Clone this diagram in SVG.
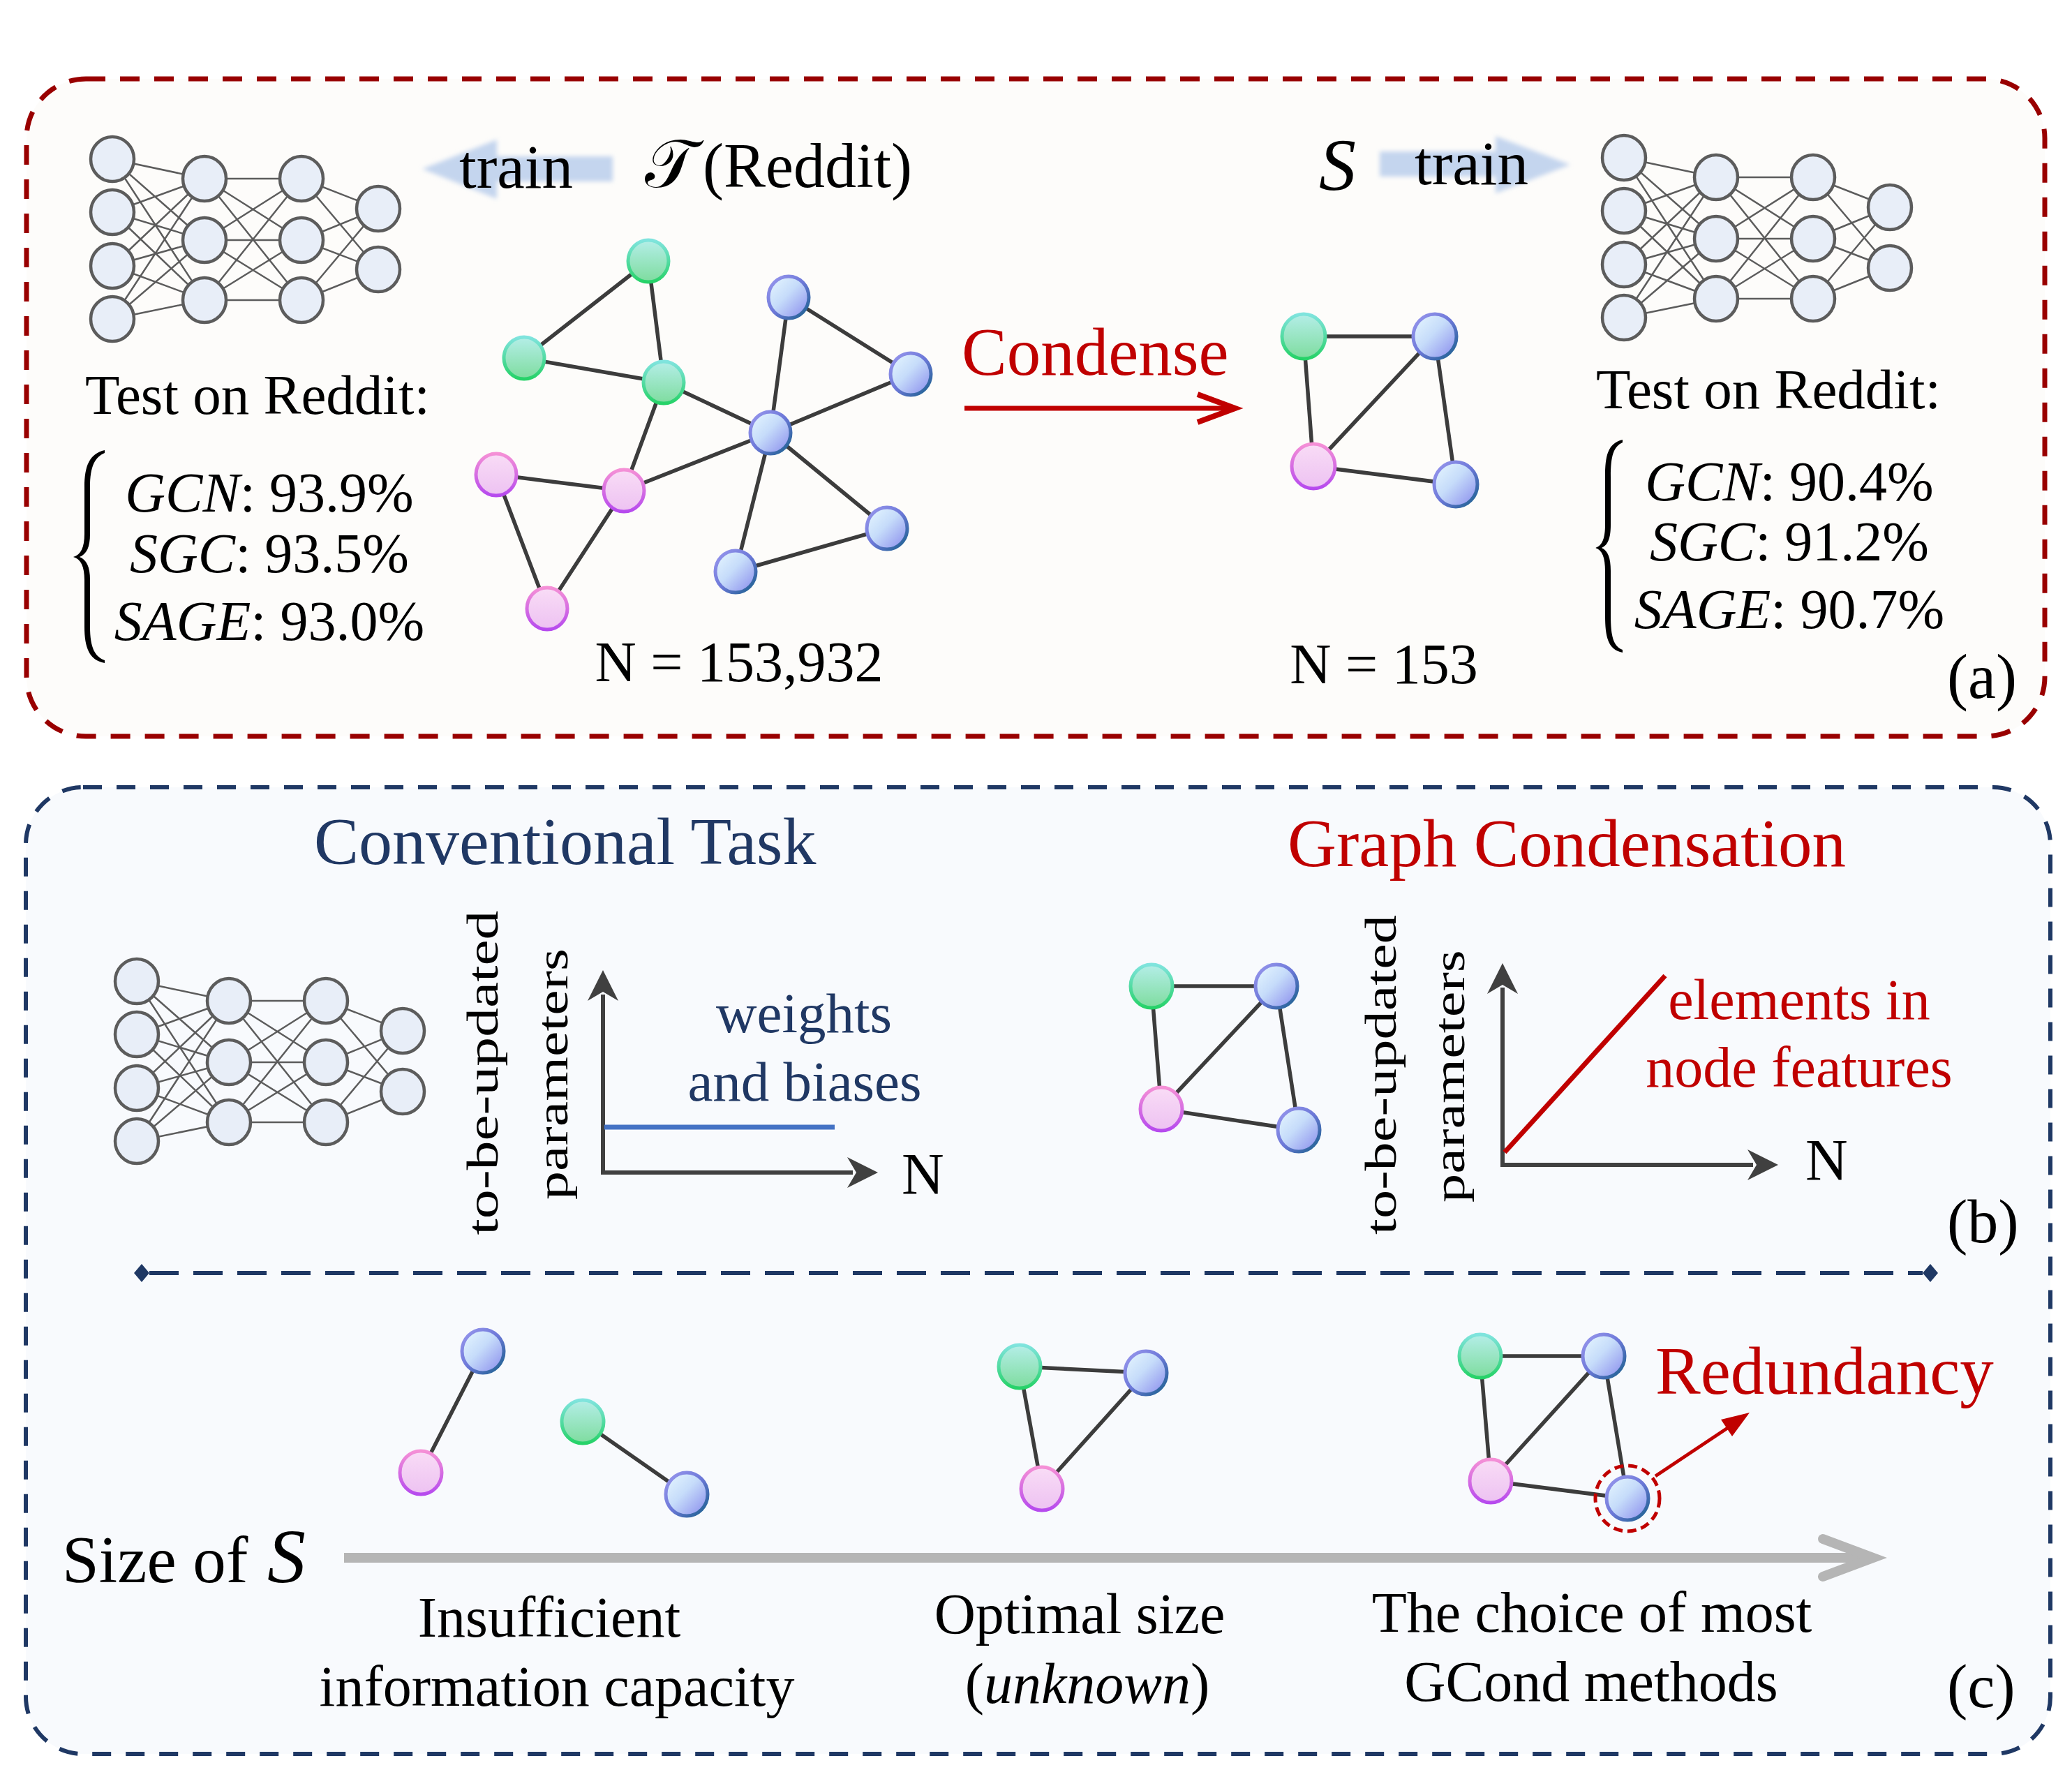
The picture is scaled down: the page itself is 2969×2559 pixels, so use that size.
<svg xmlns="http://www.w3.org/2000/svg" width="2969" height="2559" viewBox="0 0 2969 2559">
<defs>
<style>
.serif{font-family:"Liberation Serif","Times New Roman",serif;fill:#000}
.nnl{stroke:#5c5c5c;stroke-width:2.5;fill:none}
.nnc{fill:#e8eef8;stroke:#5c5c5c;stroke-width:4.5}
.ge{stroke:#3c3c3c;stroke-width:5.5;stroke-linecap:round}
.nG{fill:url(#gF);stroke:url(#gS);stroke-width:5}
.nB{fill:url(#bF);stroke:url(#bS);stroke-width:5}
.nP{fill:url(#pF);stroke:url(#pS);stroke-width:5}
.axis{stroke:#404040;stroke-width:6;fill:none}
.axh{fill:#404040}
.red{fill:#c00000}
.navy{fill:#203864}
.rot{font-size:63px}
</style>
<linearGradient id="gF" x1="0" y1="0" x2="0" y2="1"><stop offset="0" stop-color="#b4eee8"/><stop offset="1" stop-color="#7edc9e"/></linearGradient>
<linearGradient id="gS" x1="0" y1="0" x2="0" y2="1"><stop offset="0" stop-color="#80e4de"/><stop offset="1" stop-color="#26d268"/></linearGradient>
<linearGradient id="bF" x1="0" y1="0" x2="1" y2="1"><stop offset="0" stop-color="#e8f8ff"/><stop offset="0.45" stop-color="#c6dcfa"/><stop offset="1" stop-color="#8688ec"/></linearGradient>
<linearGradient id="bS" x1="0" y1="0" x2="1" y2="1"><stop offset="0" stop-color="#9a98ee"/><stop offset="0.5" stop-color="#6c78d8"/><stop offset="1" stop-color="#17608a"/></linearGradient>
<linearGradient id="pF" x1="0" y1="0" x2="0" y2="1"><stop offset="0" stop-color="#f9dcf6"/><stop offset="1" stop-color="#edc2f2"/></linearGradient>
<linearGradient id="pS" x1="0" y1="0" x2="0" y2="1"><stop offset="0" stop-color="#f590d6"/><stop offset="1" stop-color="#b64aee"/></linearGradient>
<filter id="soft" x="-10%" y="-30%" width="120%" height="160%"><feGaussianBlur stdDeviation="3"/></filter>
<g id="nnet">
<path class="nnl" d="M161,228L293,256M161,228L293,344M161,228L293,430M161,304L293,256M161,304L293,344M161,304L293,430M161,381L293,256M161,381L293,344M161,381L293,430M161,457L293,256M161,457L293,344M161,457L293,430M293,256L432,256M293,256L432,344M293,256L432,430M293,344L432,256M293,344L432,344M293,344L432,430M293,430L432,256M293,430L432,344M293,430L432,430M432,256L542,299M432,256L542,386M432,344L542,299M432,344L542,386M432,430L542,299M432,430L542,386"/>
<ellipse class="nnc" cx="161" cy="228" rx="31" ry="32"/>
<ellipse class="nnc" cx="161" cy="304" rx="31" ry="32"/>
<ellipse class="nnc" cx="161" cy="381" rx="31" ry="32"/>
<ellipse class="nnc" cx="161" cy="457" rx="31" ry="32"/>
<ellipse class="nnc" cx="293" cy="256" rx="31" ry="32"/>
<ellipse class="nnc" cx="293" cy="344" rx="31" ry="32"/>
<ellipse class="nnc" cx="293" cy="430" rx="31" ry="32"/>
<ellipse class="nnc" cx="432" cy="256" rx="31" ry="32"/>
<ellipse class="nnc" cx="432" cy="344" rx="31" ry="32"/>
<ellipse class="nnc" cx="432" cy="430" rx="31" ry="32"/>
<ellipse class="nnc" cx="542" cy="299" rx="31" ry="32"/>
<ellipse class="nnc" cx="542" cy="386" rx="31" ry="32"/>
</g>
</defs>

<rect width="2969" height="2559" fill="#ffffff"/>

<!-- Panel frames -->
<g id="panel-a">
<rect x="38" y="113" width="2892" height="942" rx="85" fill="#fdfcfa" stroke="#990000" stroke-width="7" stroke-dasharray="28 21"/>
</g>
<g id="panel-bc">
<rect x="37" y="1128" width="2901" height="1385" rx="82" fill="#f8fafd" stroke="#1f3864" stroke-width="6" stroke-dasharray="27 21"/>
</g>

<!-- Connectors -->
<g id="connectors">
<polygon points="605,242 712,200 712,224 878,224 878,260 712,260 712,285" fill="#c4d5ee" filter="url(#soft)"/>
<polygon points="1977,217 2143,217 2143,195 2250,236 2143,277 2143,253 1977,253" fill="#c4d5ee" filter="url(#soft)"/>
<line x1="1382" y1="585" x2="1766" y2="585" stroke="#c00000" stroke-width="7"/>
<polyline points="1716,565 1770,585 1716,605" fill="none" stroke="#c00000" stroke-width="8"/>
<g id="edges-T">
<line class="ge" x1="929" y1="374" x2="751" y2="513"/>
<line class="ge" x1="929" y1="374" x2="951" y2="548"/>
<line class="ge" x1="751" y1="513" x2="951" y2="548"/>
<line class="ge" x1="951" y1="548" x2="1104" y2="620"/>
<line class="ge" x1="951" y1="548" x2="894" y2="703"/>
<line class="ge" x1="711" y1="680" x2="894" y2="703"/>
<line class="ge" x1="711" y1="680" x2="784" y2="872"/>
<line class="ge" x1="894" y1="703" x2="784" y2="872"/>
<line class="ge" x1="894" y1="703" x2="1104" y2="620"/>
<line class="ge" x1="1130" y1="426" x2="1104" y2="620"/>
<line class="ge" x1="1130" y1="426" x2="1305" y2="536"/>
<line class="ge" x1="1305" y1="536" x2="1104" y2="620"/>
<line class="ge" x1="1104" y1="620" x2="1271" y2="757"/>
<line class="ge" x1="1104" y1="620" x2="1054" y2="819"/>
<line class="ge" x1="1271" y1="757" x2="1054" y2="819"/>
</g>
<g id="edges-S">
<line class="ge" x1="1868" y1="482" x2="2056" y2="482"/>
<line class="ge" x1="1868" y1="482" x2="1882" y2="668"/>
<line class="ge" x1="2056" y1="482" x2="1882" y2="668"/>
<line class="ge" x1="2056" y1="482" x2="2086" y2="694"/>
<line class="ge" x1="1882" y1="668" x2="2086" y2="694"/>
</g>
<g id="edges-b">
<line class="ge" x1="1650" y1="1413" x2="1829" y2="1413"/>
<line class="ge" x1="1650" y1="1413" x2="1664" y2="1589"/>
<line class="ge" x1="1829" y1="1413" x2="1664" y2="1589"/>
<line class="ge" x1="1829" y1="1413" x2="1861" y2="1619"/>
<line class="ge" x1="1664" y1="1589" x2="1861" y2="1619"/>
</g>
<g id="edges-c">
<line class="ge" x1="692" y1="1936" x2="603" y2="2110"/>
<line class="ge" x1="835" y1="2037" x2="984" y2="2141"/>
<line class="ge" x1="1461" y1="1958" x2="1642" y2="1967"/>
<line class="ge" x1="1461" y1="1958" x2="1493" y2="2133"/>
<line class="ge" x1="1642" y1="1967" x2="1493" y2="2133"/>
<line class="ge" x1="2121" y1="1943" x2="2298" y2="1943"/>
<line class="ge" x1="2121" y1="1943" x2="2136" y2="2122"/>
<line class="ge" x1="2298" y1="1943" x2="2136" y2="2122"/>
<line class="ge" x1="2298" y1="1943" x2="2332" y2="2147"/>
<line class="ge" x1="2136" y1="2122" x2="2332" y2="2147"/>
</g>
<g id="chart-1">
<path class="axis" d="M864,1683V1425M861,1680H1222"/>
<polygon class="axh" points="864,1390 886,1434 864,1421 842,1434"/>
<polygon class="axh" points="1258,1680 1214,1658 1227,1680 1214,1702"/>
<line x1="866" y1="1615" x2="1196" y2="1615" stroke="#4472c4" stroke-width="7"/>
</g>
<g id="chart-2">
<path class="axis" d="M2153,1672V1415M2150,1669H2512"/>
<polygon class="axh" points="2153,1380 2175,1424 2153,1411 2131,1424"/>
<polygon class="axh" points="2548,1669 2504,1647 2517,1669 2504,1691"/>
<line x1="2156" y1="1651" x2="2386" y2="1398" stroke="#c00000" stroke-width="7"/>
</g>
<g id="divider">
<line x1="214" y1="1824" x2="2755" y2="1824" stroke="#1f3864" stroke-width="6" stroke-dasharray="42 21"/>
<polygon points="203,1811 214,1824 203,1837 192,1824" fill="#1f3864"/>
<polygon points="2766,1811 2777,1824 2766,1837 2755,1824" fill="#1f3864"/>
</g>
<g id="size-arrow">
<line x1="493" y1="2232" x2="2680" y2="2232" stroke="#b5b5b5" stroke-width="14"/>
<polyline points="2612,2205 2684,2232 2612,2259" fill="none" stroke="#b5b5b5" stroke-width="14" stroke-linecap="round" stroke-linejoin="miter"/>
</g>
<g id="redundancy-arrow">
<line x1="2372" y1="2115" x2="2480" y2="2043" stroke="#c00000" stroke-width="5"/>
<polygon points="2507,2024 2482,2058 2466,2034" fill="#c00000"/>
</g>
</g>

<!-- Neural nets -->
<g id="nn-left"><use href="#nnet"/></g>
<g id="nn-right"><use href="#nnet" transform="translate(2166,-2)"/></g>
<g id="nn-b"><use href="#nnet" transform="translate(35,1178)"/></g>

<!-- Graphs -->
<g id="graph-T">
<ellipse class="nG" cx="929" cy="374" rx="29" ry="30"/>
<ellipse class="nG" cx="751" cy="513" rx="29" ry="30"/>
<ellipse class="nG" cx="951" cy="548" rx="29" ry="30"/>
<ellipse class="nB" cx="1130" cy="426" rx="29" ry="30"/>
<ellipse class="nB" cx="1305" cy="536" rx="29" ry="30"/>
<ellipse class="nB" cx="1104" cy="620" rx="29" ry="30"/>
<ellipse class="nB" cx="1271" cy="757" rx="29" ry="30"/>
<ellipse class="nB" cx="1054" cy="819" rx="29" ry="30"/>
<ellipse class="nP" cx="711" cy="680" rx="29" ry="30"/>
<ellipse class="nP" cx="894" cy="703" rx="29" ry="30"/>
<ellipse class="nP" cx="784" cy="872" rx="29" ry="30"/>
</g>
<g id="graph-S">
<ellipse class="nG" cx="1868" cy="482" rx="31" ry="32"/>
<ellipse class="nB" cx="2056" cy="482" rx="31" ry="32"/>
<ellipse class="nP" cx="1882" cy="668" rx="31" ry="32"/>
<ellipse class="nB" cx="2086" cy="694" rx="31" ry="32"/>
</g>
<g id="graph-b">
<ellipse class="nG" cx="1650" cy="1413" rx="30" ry="31"/>
<ellipse class="nB" cx="1829" cy="1413" rx="30" ry="31"/>
<ellipse class="nP" cx="1664" cy="1589" rx="30" ry="31"/>
<ellipse class="nB" cx="1861" cy="1619" rx="30" ry="31"/>
</g>
<g id="graph-c-small">
<ellipse class="nB" cx="692" cy="1936" rx="30" ry="31"/>
<ellipse class="nP" cx="603" cy="2110" rx="30" ry="31"/>
<ellipse class="nG" cx="835" cy="2037" rx="30" ry="31"/>
<ellipse class="nB" cx="984" cy="2141" rx="30" ry="31"/>
</g>
<g id="graph-c-optimal">
<ellipse class="nG" cx="1461" cy="1958" rx="30" ry="31"/>
<ellipse class="nB" cx="1642" cy="1967" rx="30" ry="31"/>
<ellipse class="nP" cx="1493" cy="2133" rx="30" ry="31"/>
</g>
<g id="graph-c-gcond">
<ellipse class="nG" cx="2121" cy="1943" rx="30" ry="31"/>
<ellipse class="nB" cx="2298" cy="1943" rx="30" ry="31"/>
<ellipse class="nP" cx="2136" cy="2122" rx="30" ry="31"/>
<ellipse class="nB" cx="2332" cy="2147" rx="30" ry="31"/>
<ellipse cx="2332" cy="2147" rx="46" ry="47" fill="none" stroke="#c00000" stroke-width="5" stroke-dasharray="13 7"/>
</g>

<!-- Braces -->
<g id="braces" fill="#000">
<path d="M150,645 C128,650 121,668 121,698 L121,765 C121,784 116,795 105,798 C116,801 121,812 121,831 L121,898 C121,928 128,946 150,950 L150,946 C136,941 129,928 129,898 L129,831 C129,812 124,802 114,798 C124,794 129,784 129,765 L129,698 C129,668 136,655 150,649 Z"/>
<path d="M2325,630 C2304,635 2300,653 2300,683 L2300,752 C2300,771 2296,782 2286,785 C2296,788 2300,799 2300,818 L2300,882 C2300,912 2304,931 2325,935 L2325,931 C2312,926 2308,912 2308,882 L2308,818 C2308,799 2304,789 2295,785 C2304,781 2308,771 2308,752 L2308,683 C2308,653 2312,640 2325,634 Z"/>
</g>

<!-- Texts panel (a) -->
<g id="texts-a" class="serif">
<text x="658" y="269" font-size="89">train</text>
<text x="924" y="268" font-size="96" font-family="DejaVu Serif, DejaVu Sans, serif">𝒯</text>
<text x="1007" y="268" font-size="90">(Reddit)</text>
<text x="1890" y="272" font-size="106" font-style="italic">S</text>
<text x="2027" y="264" font-size="89">train</text>
<text x="369" y="593" font-size="81" text-anchor="middle">Test on Reddit:</text>
<text x="2534" y="585" font-size="81" text-anchor="middle">Test on Reddit:</text>
<text x="386" y="733" font-size="80" text-anchor="middle"><tspan font-style="italic">GCN</tspan>: 93.9%</text>
<text x="386" y="820" font-size="80" text-anchor="middle"><tspan font-style="italic">SGC</tspan>: 93.5%</text>
<text x="386" y="917" font-size="80" text-anchor="middle"><tspan font-style="italic">SAGE</tspan>: 93.0%</text>
<text x="2564" y="717" font-size="80" text-anchor="middle"><tspan font-style="italic">GCN</tspan>: 90.4%</text>
<text x="2564" y="803" font-size="80" text-anchor="middle"><tspan font-style="italic">SGC</tspan>: 91.2%</text>
<text x="2564" y="900" font-size="80" text-anchor="middle"><tspan font-style="italic">SAGE</tspan>: 90.7%</text>
<text x="1059" y="976" font-size="82" text-anchor="middle">N = 153,932</text>
<text x="1983" y="979" font-size="82" text-anchor="middle">N = 153</text>
<text x="1378" y="537" font-size="97" class="red">Condense</text>
<text x="2790" y="1000" font-size="90">(a)</text>
</g>

<!-- Texts panel (b) -->
<g id="texts-b" class="serif">
<text x="450" y="1238" font-size="96" class="navy">Conventional Task</text>
<text x="1845" y="1241" font-size="97" class="red">Graph Condensation</text>
<text class="rot" transform="translate(713,1537) rotate(-90)" text-anchor="middle" textLength="465" lengthAdjust="spacingAndGlyphs">to-be-updated</text>
<text class="rot" transform="translate(813,1539) rotate(-90)" text-anchor="middle" textLength="360" lengthAdjust="spacingAndGlyphs">parameters</text>
<text class="rot" transform="translate(2000,1540) rotate(-90)" text-anchor="middle" textLength="458" lengthAdjust="spacingAndGlyphs">to-be-updated</text>
<text class="rot" transform="translate(2098,1542) rotate(-90)" text-anchor="middle" textLength="362" lengthAdjust="spacingAndGlyphs">parameters</text>
<text x="1152" y="1479" font-size="81" text-anchor="middle" class="navy">weights</text>
<text x="1153" y="1577" font-size="81" text-anchor="middle" class="navy">and biases</text>
<text x="2578" y="1460" font-size="82" text-anchor="middle" class="red">elements in</text>
<text x="2578" y="1557" font-size="82" text-anchor="middle" class="red">node features</text>
<text x="1292" y="1711" font-size="84">N</text>
<text x="2587" y="1691" font-size="84">N</text>
<text x="2790" y="1780" font-size="88">(b)</text>
</g>

<!-- Texts panel (c) -->
<g id="texts-c" class="serif">
<text x="89" y="2267" font-size="95">Size of <tspan x="383" font-style="italic" font-size="110">S</tspan></text>
<text x="787" y="2345" font-size="82" text-anchor="middle">Insufficient</text>
<text x="798" y="2444" font-size="82" text-anchor="middle">information capacity</text>
<text x="1547" y="2340" font-size="82" text-anchor="middle">Optimal size</text>
<text x="1558" y="2440" font-size="82" text-anchor="middle">(<tspan font-style="italic">unknown</tspan>)</text>
<text x="2281" y="2338" font-size="82" text-anchor="middle">The choice of most</text>
<text x="2280" y="2437" font-size="82" text-anchor="middle">GCond methods</text>
<text x="2372" y="1997" font-size="97" class="red">Redundancy</text>
<text x="2790" y="2446" font-size="88">(c)</text>
</g>
</svg>
